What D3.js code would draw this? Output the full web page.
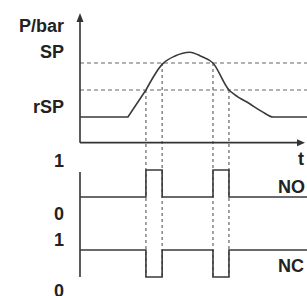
<!DOCTYPE html>
<html>
<head>
<meta charset="utf-8">
<script src="https://cdn.jsdelivr.net/npm/d3@7"></script>
<style>
  body { margin: 0; background: #fff; }
  text { font-family: "Liberation Sans", Arial, sans-serif; font-weight: bold; fill: #222; }
</style>
</head>
<body>
<svg id="chart" width="307" height="296"></svg>
<script>
// Pressure curve (time in arbitrary units, pressure relative: 0 = base, 1 = rSP, 2 = SP)
const timeKnots = [0, 2.16, 2.97, 3.7, 4.28, 4.95, 5.45, 5.99, 6.71, 6.95, 7.66, 8.2, 8.7, 10.5];
const pressure  = [0, 0,    1,    1.95, 2.26, 2.4, 2.25, 2,   1,    0.84, 0.48, 0.2, 0,   0];

// Threshold levels
const levelNames  = ["SP", "rSP"];
const levelValues = [2, 1];

// Switching points and relay outputs
const switchTimes = [0, 2.97, 3.7, 5.99, 6.71, 10.5];
const switchLevel = [null, 1, 2, 2, 1, null];
const noState = [0, 1, 0, 1, 0, 0];
const ncState = [1, 0, 1, 0, 1, 1];

const stateTicks = [1, 0];

let svg = d3.select("#chart");

// Scales
let x = d3.scaleLinear().domain([0, 10]).range([80, 302]);
let y = d3.scaleLinear().domain([-1, 4]).range([144, 9]);
let yNO = d3.scaleLinear().domain([0, 1]).range([197, 170]);
let yNC = d3.scaleLinear().domain([0, 1]).range([277, 250]);

const axisColor = "#333";
const lineColor = "#3a3a3a";
const dashColor = "#666";

// Horizontal dashed threshold lines
svg.append("g")
    .selectAll("line")
    .data(levelValues)
    .enter().append("line")
    .attr("x1", x(0))
    .attr("x2", 307)
    .attr("y1", d => y(d))
    .attr("y2", d => y(d))
    .attr("stroke", dashColor)
    .attr("stroke-width", 1.2)
    .attr("stroke-dasharray", "4,3");

// Vertical dotted lines at switching points
let marks = [];
switchTimes.forEach(function (t, i) {
    if (switchLevel[i] !== null) marks.push({t: t, l: switchLevel[i]});
});
svg.append("g")
    .selectAll("line")
    .data(marks)
    .enter().append("line")
    .attr("x1", d => x(d.t))
    .attr("x2", d => x(d.t))
    .attr("y1", d => y(d.l))
    .attr("y2", yNC(0))
    .attr("stroke", dashColor)
    .attr("stroke-width", 1.2)
    .attr("stroke-dasharray", "3,3");

// Pressure axes
let yTop = 3.85, yFloor = -0.95;
svg.append("line")
    .attr("x1", x(0)).attr("x2", x(0))
    .attr("y1", y(yTop) + 6).attr("y2", y(yFloor))
    .attr("stroke", axisColor).attr("stroke-width", 1.6);
svg.append("path")
    .attr("d", `M${x(0)},${y(yTop)} l-3.5,9 l7,0 z`)
    .attr("fill", axisColor);
svg.append("line")
    .attr("x1", x(0)).attr("x2", x(10) - 3)
    .attr("y1", y(yFloor)).attr("y2", y(yFloor))
    .attr("stroke", axisColor).attr("stroke-width", 1.6);
svg.append("path")
    .attr("d", `M${x(10) + 3},${y(yFloor)} l-8,-3.5 l0,7 z`)
    .attr("fill", axisColor);

// Pressure curve: linear rise, then smooth hump
let pts = timeKnots.map((t, i) => [t, pressure[i]]);
let lineLin = d3.line().x(d => x(d[0])).y(d => y(d[1]));
let lineSmooth = d3.line().x(d => x(d[0])).y(d => y(d[1])).curve(d3.curveMonotoneX);
svg.append("path")
    .attr("d", lineLin(pts.slice(0, 3)))
    .attr("fill", "none").attr("stroke", lineColor).attr("stroke-width", 1.6);
svg.append("path")
    .attr("d", lineSmooth(pts.slice(2)))
    .attr("fill", "none").attr("stroke", lineColor).attr("stroke-width", 1.6);

// Relay output axis
svg.append("line")
    .attr("x1", x(0)).attr("x2", x(0))
    .attr("y1", 172).attr("y2", yNC(0))
    .attr("stroke", axisColor).attr("stroke-width", 1.6);

// Relay outputs
let stepNO = d3.line().x((d, i) => x(switchTimes[i])).y(d => yNO(d)).curve(d3.curveStepAfter);
let stepNC = d3.line().x((d, i) => x(switchTimes[i])).y(d => yNC(d)).curve(d3.curveStepAfter);
svg.append("path").attr("d", stepNO(noState))
    .attr("fill", "none").attr("stroke", lineColor).attr("stroke-width", 1.6);
svg.append("path").attr("d", stepNC(ncState))
    .attr("fill", "none").attr("stroke", lineColor).attr("stroke-width", 1.6);

// Labels
svg.append("text").attr("x", 64).attr("y", 32).attr("text-anchor", "end")
    .style("font-size", "18px").text("P/bar");
svg.selectAll(".lvl")
    .data(levelNames)
    .enter().append("text")
    .attr("class", "lvl")
    .attr("x", 64)
    .attr("y", (d, i) => i === 0 ? y(levelValues[i]) - 5 : y(levelValues[i]) + 23)
    .attr("text-anchor", "end")
    .style("font-size", "18px")
    .text(d => d);

svg.selectAll(".tNO")
    .data(stateTicks)
    .enter().append("text")
    .attr("x", 64)
    .attr("y", d => d === 1 ? yNO(d) - 3 : yNO(d) + 23)
    .attr("text-anchor", "end")
    .style("font-size", "18px")
    .text(d => d);
svg.selectAll(".tNC")
    .data(stateTicks)
    .enter().append("text")
    .attr("x", 64)
    .attr("y", d => d === 1 ? yNC(d) - 4 : yNC(d) + 20)
    .attr("text-anchor", "end")
    .style("font-size", "18px")
    .text(d => d);

svg.append("text").attr("x", 278).attr("y", 193).style("font-size", "18px").text("NO");
svg.append("text").attr("x", 278).attr("y", 272).style("font-size", "18px").text("NC");
svg.append("text").attr("x", 298).attr("y", 165).style("font-size", "18px").text("t");
</script>
</body>
</html>
